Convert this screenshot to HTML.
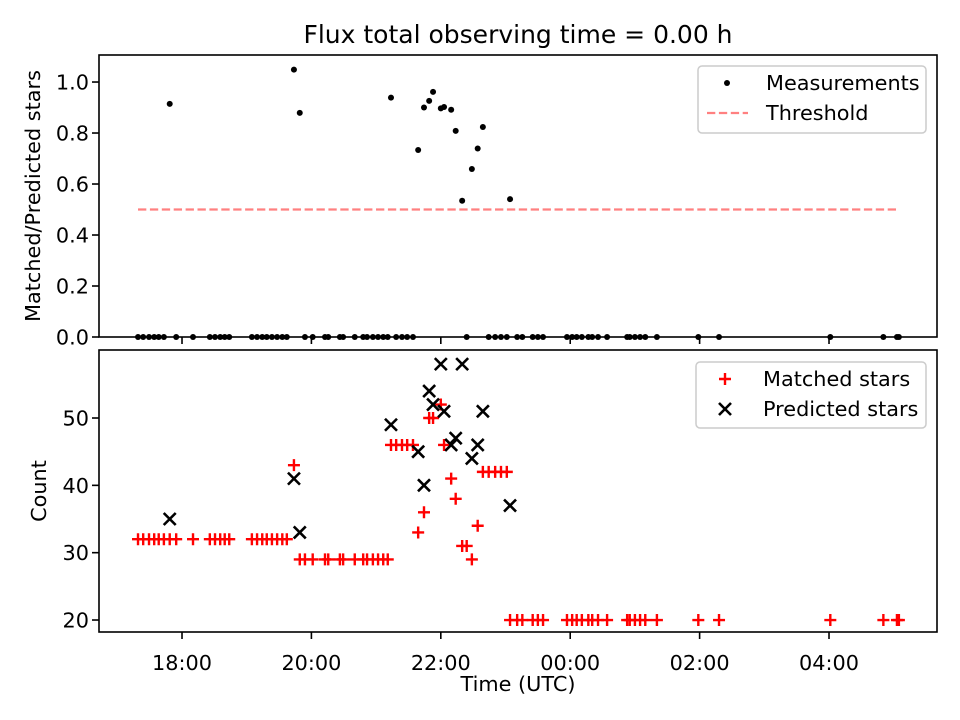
<!DOCTYPE html>
<html><head><meta charset="utf-8"><style>
html,body{margin:0;padding:0;background:#fff;}
svg{display:block;font-family:"DejaVu Sans","Liberation Sans",sans-serif;}
</style></head><body>
<svg id="chart" width="960" height="720" viewBox="0 0 960 720">
<rect width="960" height="720" fill="#fff"/>
<text x="518" y="43" font-size="25" text-anchor="middle">Flux total observing time = 0.00 h</text>
<g id="topAxes"></g><g id="botAxes"></g>
<text transform="translate(40,196) rotate(-90)" font-size="20.8" text-anchor="middle">Matched/Predicted stars</text>
<text transform="translate(46,491) rotate(-90)" font-size="20.8" text-anchor="middle">Count</text>
<text x="518" y="691" font-size="20.8" text-anchor="middle">Time (UTC)</text>
</svg>
<script>
// time in decimal hours (values > 24 are after midnight)
const times=[17.32,17.40,17.49,17.57,17.64,17.72,17.81,17.91,18.17,18.43,18.51,18.59,18.66,18.73,19.08,19.16,19.24,19.31,19.39,19.47,19.55,19.62,19.73,19.82,19.90,20.02,20.21,20.26,20.44,20.49,20.67,20.80,20.86,20.95,21.03,21.11,21.18,21.23,21.31,21.40,21.48,21.57,21.65,21.74,21.82,21.88,22.00,22.05,22.16,22.23,22.33,22.40,22.48,22.57,22.65,22.74,22.84,22.93,23.02,23.07,23.18,23.26,23.42,23.50,23.58,23.95,24.03,24.10,24.18,24.28,24.34,24.43,24.57,24.88,24.92,25.00,25.08,25.16,25.34,25.98,26.30,28.02,28.84,29.05,29.08];
const matched=[32,32,32,32,32,32,32,32,32,32,32,32,32,32,32,32,32,32,32,32,32,32,43,29,29,29,29,29,29,29,29,29,29,29,29,29,29,46,46,46,46,46,33,36,50,50,52,46,41,38,31,31,29,34,42,42,42,42,42,20,20,20,20,20,20,20,20,20,20,20,20,20,20,20,20,20,20,20,20,20,20,20,20,20,20];
const predicted=[null,null,null,null,null,null,35,null,null,null,null,null,null,null,null,null,null,null,null,null,null,null,41,33,null,null,null,null,null,null,null,null,null,null,null,null,null,49,null,null,null,null,45,40,54,52,58,51,46,47,58,null,44,46,51,null,null,null,null,37,null,null,null,null,null,null,null,null,null,null,null,null,null,null,null,null,null,null,null,null,null,null,null,null,null];
const threshold=0.5;
const xTickHours=[18,20,22,24,26,28];
const xTickLabels=["18:00","20:00","22:00","00:00","02:00","04:00"];
const topTicks=[0,0.2,0.4,0.6,0.8,1.0];
const topTickLabels=["0.0","0.2","0.4","0.6","0.8","1.0"];
const botTicks=[20,30,40,50];

const NS="http://www.w3.org/2000/svg";
const X0=99,X1=937,H0=16.717,H1=29.669;
const xs=h=>X0+(h-H0)/(H1-H0)*(X1-X0);
const TT=55,TB=337,TY0=0,TY1=1.106;
const yt=v=>TB-(v-TY0)/(TY1-TY0)*(TB-TT);
const BT=350,BB=632,BY0=18.22,BY1=60.1;
const yb=v=>BB-(v-BY0)/(BY1-BY0)*(BB-BT);
function el(tag,attrs,parent){const e=document.createElementNS(NS,tag);for(const k in attrs)e.setAttribute(k,attrs[k]);parent.appendChild(e);return e;}
const gTop=document.getElementById('topAxes'),gBot=document.getElementById('botAxes');

function plus(g,x,y,c,name){const p=el('path',{d:`M${x-6},${y}H${x+6}M${x},${y-6}V${y+6}`,stroke:c,'stroke-width':2.4,fill:'none'},g);

}
function cross(g,x,y,c,name){const p=el('path',{d:`M${x-6},${y-6}L${x+6},${y+6}M${x-6},${y+6}L${x+6},${y-6}`,stroke:c,'stroke-width':2.6,fill:'none'},g);

}

const ratio=matched.map((m,i)=>predicted[i]?m/predicted[i]:0);
const tl=el('line',{x1:xs(times[0]),x2:xs(times[times.length-1]),y1:yt(threshold),y2:yt(threshold),stroke:'#ff8080','stroke-width':2.25,'stroke-dasharray':'8.3,3.6'},gTop);


ratio.forEach((r,i)=>{const c=el('circle',{cx:xs(times[i]),cy:yt(r),r:3,fill:'#000'},gTop);

});
matched.forEach((m,i)=>plus(gBot,xs(times[i]),yb(m),'#ff0000','matched-star-point'));
predicted.forEach((p,i)=>{if(p!=null)cross(gBot,xs(times[i]),yb(p),'#000','predicted-star-point');});

function frame(g,T,B,name){const r=el('rect',{x:X0,y:T,width:X1-X0,height:B-T,fill:'none',stroke:'#000','stroke-width':1.6},g);


xTickHours.forEach(h=>{el('line',{x1:xs(h),x2:xs(h),y1:B,y2:B+7,stroke:'#000','stroke-width':1.6},g);});}
frame(gTop,TT,TB,'top-plot-frame');frame(gBot,BT,BB,'bottom-plot-frame');
xTickHours.forEach((h,i)=>{const t=el('text',{x:xs(h),y:670,'font-size':20.8,'text-anchor':'middle'},gBot);t.textContent=xTickLabels[i];

});
topTicks.forEach((v,i)=>{el('line',{x1:X0-7,x2:X0,y1:yt(v),y2:yt(v),stroke:'#000','stroke-width':1.6},gTop);
const t=el('text',{x:89,y:yt(v)+7.5,'font-size':20.8,'text-anchor':'end'},gTop);t.textContent=topTickLabels[i];

});
botTicks.forEach(v=>{el('line',{x1:X0-7,x2:X0,y1:yb(v),y2:yb(v),stroke:'#000','stroke-width':1.6},gBot);
const t=el('text',{x:89,y:yb(v)+7.5,'font-size':20.8,'text-anchor':'end'},gBot);t.textContent=String(v);

});

const lg1=el('g',{},gTop);


el('rect',{x:698,y:66,width:228,height:67,rx:4,fill:'#fff','fill-opacity':0.8,stroke:'#ccc','stroke-width':1.5},lg1);
el('circle',{cx:727,cy:83,r:3,fill:'#000'},lg1);
let t=el('text',{x:766,y:90,'font-size':20.8},lg1);t.textContent='Measurements';
el('line',{x1:707,x2:748,y1:113,y2:113,stroke:'#ff8080','stroke-width':2.25,'stroke-dasharray':'8.3,3.6'},lg1);
t=el('text',{x:766,y:120,'font-size':20.8},lg1);t.textContent='Threshold';
const lg2=el('g',{},gBot);


el('rect',{x:696,y:362,width:230,height:66,rx:4,fill:'#fff','fill-opacity':0.8,stroke:'#ccc','stroke-width':1.5},lg2);
plus(lg2,725,379,'#ff0000','legend-matched-marker');
t=el('text',{x:763,y:386,'font-size':20.8},lg2);t.textContent='Matched stars';
cross(lg2,725,409,'#000','legend-predicted-marker');
t=el('text',{x:763,y:416,'font-size':20.8},lg2);t.textContent='Predicted stars';
</script>
</body></html>
